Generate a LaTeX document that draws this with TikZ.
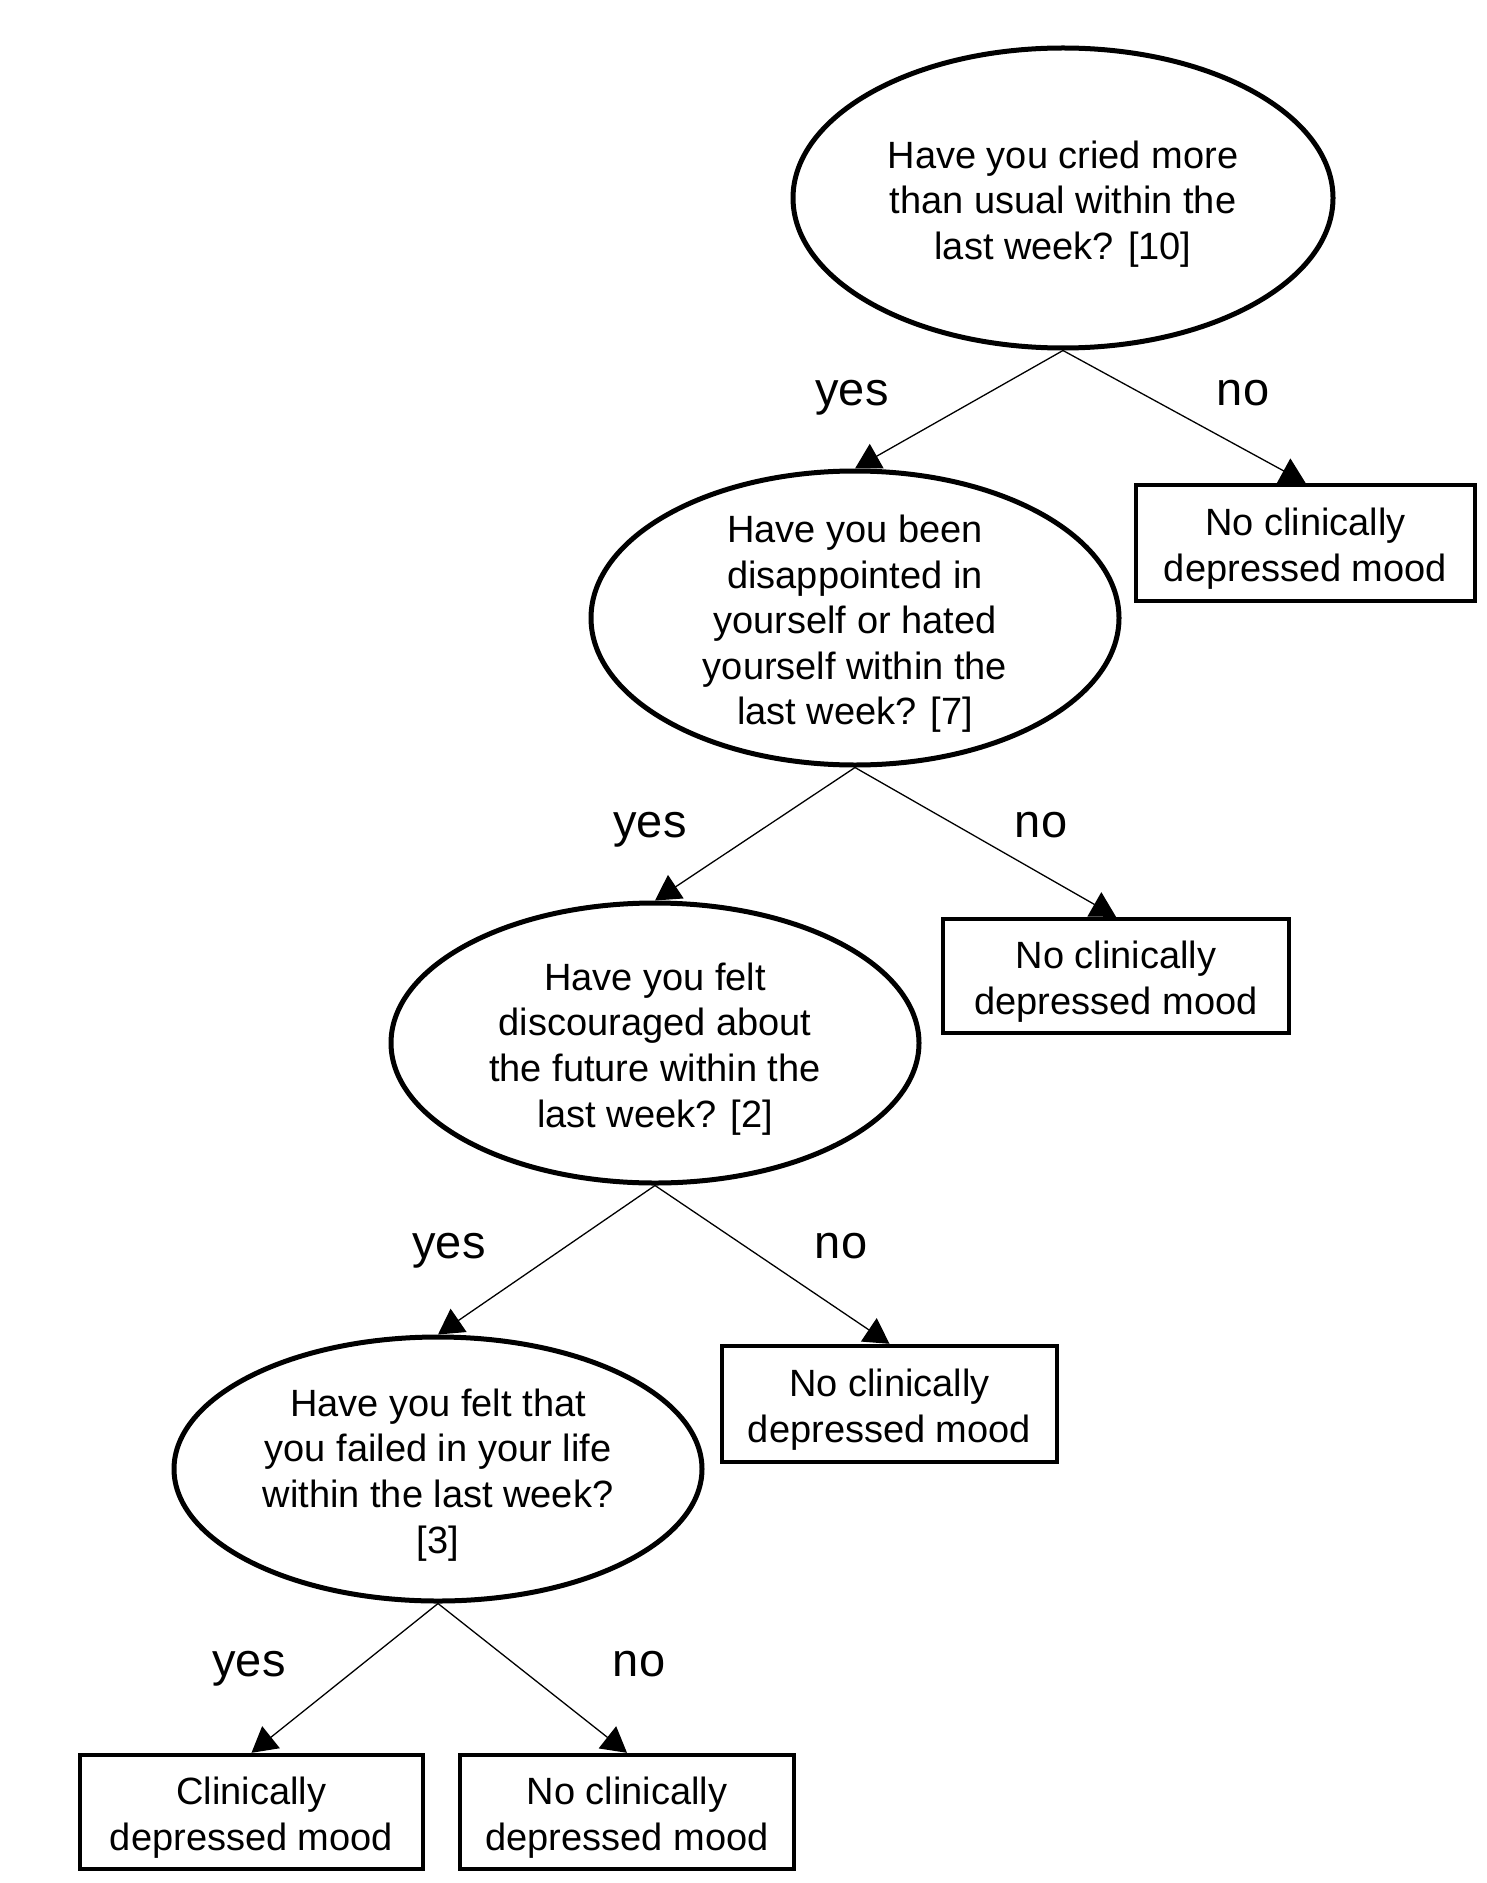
\documentclass[tikz,border=0pt]{standalone}
\usepackage{fontspec}
\setmainfont{Liberation Sans}
\usetikzlibrary{shapes.geometric,arrows.meta}
\newcommand{\tpstrut}{\rule{0pt}{19.6pt}}
\begin{document}
\begin{tikzpicture}[x=0.5pt,y=-0.5pt,
  q/.style={ellipse,draw,line width=2.5pt,inner sep=-40pt,align=center,font=\fontsize{19}{22.8}\selectfont},
  res/.style={rectangle,draw,line width=2.2pt,inner sep=0pt,align=center,font=\fontsize{19}{22.8}\selectfont},
  lbl/.style={anchor=base,font=\fontsize{23.5}{28}\selectfont},
  conn/.style={line width=0.65pt,-{Triangle[width=14pt,length=12.5pt]}}]
\useasboundingbox (0,0) rectangle (1487,1883);
\fill[white] (0,0) rectangle (1487,1883);

\node[q,minimum width=270pt,minimum height=150pt] (e1) at (1063,198) {\tpstrut Have you cried more\\than usual within the\\last week? [10]};
\node[q,minimum width=264pt,minimum height=147pt] (e2) at (855,618) {\tpstrut Have you been\\disappointed in\\yourself or hated\\yourself within the\\last week? [7]};
\node[q,minimum width=264pt,minimum height=140pt] (e3) at (655,1043) {\tpstrut Have you felt\\discouraged about\\the future within the\\last week? [2]};
\node[q,minimum width=264pt,minimum height=132pt] (e4) at (438,1469) {\tpstrut Have you felt that\\you failed in your life\\within the last week?\\{}[3]};

\node[res,minimum width=169.5pt,minimum height=58pt] (b1) at (1305.5,543) {\tpstrut No clinically\\depressed mood};
\node[res,minimum width=173pt,minimum height=57pt] (b2) at (1116,976) {\tpstrut No clinically\\depressed mood};
\node[res,minimum width=167.5pt,minimum height=58pt] (b3) at (889.5,1404) {\tpstrut No clinically\\depressed mood};
\node[res,minimum width=171.5pt,minimum height=57pt] (b4) at (251.5,1812) {\tpstrut Clinically\\depressed mood};
\node[res,minimum width=167pt,minimum height=57pt] (b5) at (627,1812) {\tpstrut No clinically\\depressed mood};

\draw[conn] (e1.south) -- (e2.north);
\draw[conn] (e1.south) -- (b1.north);
\draw[conn] (e2.south) -- (e3.north);
\draw[conn] (e2.south) -- (b2.north);
\draw[conn] (e3.south) -- (e4.north);
\draw[conn] (e3.south) -- (b3.north);
\draw[conn] (e4.south) -- (b4.north);
\draw[conn] (e4.south) -- (b5.north);

\node[lbl] (y1) at (852,405) {yes};
\node[lbl] (n1) at (1243,405) {no};
\node[lbl] (y2) at (650,837) {yes};
\node[lbl] (n2) at (1041,837) {no};
\node[lbl] (y3) at (449,1258) {yes};
\node[lbl] (n3) at (841,1258) {no};
\node[lbl] (y4) at (249,1676) {yes};
\node[lbl] (n4) at (639,1676) {no};
\end{tikzpicture}
\end{document}
